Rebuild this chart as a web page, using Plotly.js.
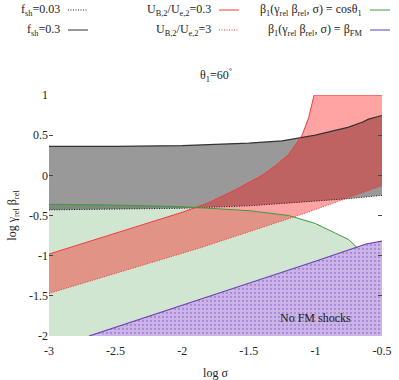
<!DOCTYPE html>
<html>
<head>
<meta charset="utf-8">
<script src="https://cdn.plot.ly/plotly-3.0.1.min.js"></script>
<style>
  html, body { margin: 0; padding: 0; background: white; }
  #chart { width: 399px; height: 380px; }
</style>
</head>
<body>
<div id="chart"></div>
<script>
// log sigma ranges / log(gamma_rel beta_rel) boundaries
const X_RANGE = [-3, -0.5];
const Y_RANGE = [-2, 1];

const xTickVals = [-3, -2.5, -2, -1.5, -1, -0.5];
const xTickText = ["-3", "-2.5", "-2", "-1.5", "-1", "-0.5"];
const yTickVals = [-2, -1.5, -1, -0.5, 0, 0.5, 1];
const yTickText = ["-2", "-1.5", "-1", "-0.5", "0", "0.5", "1"];

// f_sh = 0.3 (upper, solid) and f_sh = 0.03 (lower, dotted)
const fshHiX = [-3, -2.5, -2, -1.5, -1.25, -1.0, -0.75, -0.65, -0.6, -0.5];
const fshHiY = [0.36, 0.36, 0.37, 0.40, 0.43, 0.50, 0.60, 0.66, 0.70, 0.745];
const fshLoX = [-3, -2, -1.5, -1.1, -0.75, -0.5];
const fshLoY = [-0.43, -0.41, -0.38, -0.335, -0.29, -0.25];

// U_B,2/U_e,2 = 0.3 (solid) and = 3 (dotted)
const ub03X = [-3, -2.5, -2, -1.8, -1.6, -1.4, -1.3, -1.2, -1.1, -1.05, -1.01, -0.5];
const ub03Y = [-0.98, -0.72, -0.46, -0.34, -0.18, 0.0, 0.12, 0.26, 0.50, 0.72, 1.0, 1.0];
const ub3X = [-3, -1.86, -1.11, -0.5];
const ub3Y = [-1.47, -0.90, -0.49, -0.13];

// beta_1 = cos(theta_1)
const cosX = [-3, -2.5, -2, -1.5, -1.2, -1.0, -0.85, -0.75, -0.68];
const cosY = [-0.36, -0.37, -0.39, -0.44, -0.50, -0.60, -0.72, -0.80, -0.91];

// beta_1 = beta_FM
const fmX = [-2.7, -2, -1.5, -1, -0.62, -0.5];
const fmY = [-2, -1.62, -1.35, -1.07, -0.855, -0.82];

const FONT = "Times New Roman";
const RED = "#f03c3c";
const GREEN = "#3f9a3f";
const PURPLE = "#6b3fb3";
const DOT = "1px,1.5px";

function band(xHi, yHi, xLo, yLo) {
  return {
    x: [...xHi, ...xLo.slice().reverse()],
    y: [...yHi, ...yLo.slice().reverse()],
  };
}

const cosEnd = cosX[cosX.length - 1];
const fmBelow = fmX.map((x, i) => [x, fmY[i]]).filter((p) => p[0] < cosEnd).reverse();
const greenPoly = {
  x: [...cosX, ...fmBelow.map((p) => p[0]), X_RANGE[0]],
  y: [...cosY, ...fmBelow.map((p) => p[1]), Y_RANGE[0]],
};
const grayPoly = band(fshHiX, fshHiY, fshLoX, fshLoY);
const redPoly = band(ub03X, ub03Y, ub3X, ub3Y);

const traces = [
  { ...greenPoly, mode: "none", fill: "toself", fillcolor: "rgba(40,140,40,0.22)", hoverinfo: "skip" },
  { ...grayPoly, mode: "none", fill: "toself", fillcolor: "rgba(0,0,0,0.4)", hoverinfo: "skip" },
  { ...redPoly, mode: "none", fill: "toself", fillcolor: "rgba(255,0,0,0.36)", hoverinfo: "skip" },
  {
    x: [...fmX, X_RANGE[1]],
    y: [...fmY, Y_RANGE[0]],
    mode: "none",
    fill: "toself",
    fillcolor: "#c8b0e6",
    fillpattern: { shape: ".", bgcolor: "#ccb6e9", fgcolor: "#a889d4", size: 4, solidity: 0.25 },
    hoverinfo: "skip",
  },
  { x: fshHiX, y: fshHiY, mode: "lines", line: { color: "#333", width: 1.2 } },
  { x: fshLoX, y: fshLoY, mode: "lines", line: { color: "#222", width: 1, dash: DOT } },
  { x: ub03X, y: ub03Y, mode: "lines", line: { color: RED, width: 1 } },
  { x: ub3X, y: ub3Y, mode: "lines", line: { color: RED, width: 1, dash: DOT } },
  { x: cosX, y: cosY, mode: "lines", line: { color: GREEN, width: 1 } },
  { x: fmX, y: fmY, mode: "lines", line: { color: PURPLE, width: 1.2 } },
].map((t) => ({ ...t, type: "scatter", showlegend: false }));

// legend drawn by hand: text right-aligned, line sample to its right
const M = { l: 49, r: 17, t: 95, b: 44 };
const PW = 399 - M.l - M.r;
const PH = 380 - M.t - M.b;
const px = (x) => (x - M.l) / PW;
const py = (y) => (380 - M.b - y) / PH;

const legendItems = [
  { text: "f<sub>sh</sub>=0.03", tx: 62, row: 10, color: "#222", dash: DOT },
  { text: "f<sub>sh</sub>=0.3", tx: 62, row: 30, color: "#333", dash: "solid" },
  { text: "U<sub>B,2</sub>/U<sub>e,2</sub>=0.3", tx: 213, row: 10, color: RED, dash: "solid" },
  { text: "U<sub>B,2</sub>/U<sub>e,2</sub>=3", tx: 213, row: 30, color: RED, dash: DOT },
  { text: "β<sub>1</sub>(γ<sub>rel</sub> β<sub>rel</sub>, σ) = cosθ<sub>1</sub>", tx: 364, row: 10, color: GREEN, dash: "solid" },
  { text: "β<sub>1</sub>(γ<sub>rel</sub> β<sub>rel</sub>, σ) = β<sub>FM</sub>", tx: 364, row: 30, color: PURPLE, dash: "solid" },
];

const annotations = legendItems.map((it) => ({
  xref: "paper", yref: "paper",
  x: px(it.tx), y: py(it.row),
  xanchor: "right", yanchor: "middle",
  text: it.text, showarrow: false,
  font: { family: FONT, size: 12, color: "#222" },
}));
annotations.push({
  x: -1.0, y: -1.77, xref: "x", yref: "y",
  text: "No FM shocks", showarrow: false,
  font: { family: FONT, size: 12, color: "#222" },
});

const shapes = legendItems.map((it) => ({
  type: "line", xref: "paper", yref: "paper",
  x0: px(it.tx + 6), x1: px(it.tx + 26), y0: py(it.row), y1: py(it.row),
  line: { color: it.color, width: 1, dash: it.dash },
}));

const layout = {
  width: 399,
  height: 380,
  margin: M,
  paper_bgcolor: "white",
  plot_bgcolor: "white",
  font: { family: FONT, size: 12, color: "#222" },
  title: {
    text: "θ<sub>1</sub>=60<sup>°</sup>",
    x: px(216), xref: "paper", y: 1 - 75 / 380, yref: "container",
    xanchor: "center", yanchor: "middle",
    font: { family: FONT, size: 12, color: "#222" },
  },
  xaxis: {
    range: X_RANGE,
    tickvals: xTickVals, ticktext: xTickText,
    ticks: "", showgrid: false, zeroline: false, showline: false,
    ticklabelstandoff: 6,
    title: { text: "log σ", font: { family: FONT, size: 12 }, standoff: 11 },
  },
  yaxis: {
    range: Y_RANGE,
    tickvals: yTickVals, ticktext: yTickText,
    ticks: "inside", ticklen: 4, tickcolor: "#444", mirror: "ticks",
    showgrid: false, zeroline: false, showline: false,
    title: { text: "log γ<sub>rel</sub> β<sub>rel</sub>", font: { family: FONT, size: 12 }, standoff: 9 },
  },
  annotations,
  shapes,
  showlegend: false,
};

Plotly.newPlot("chart", traces, layout, { displayModeBar: false, staticPlot: true });
</script>
</body>
</html>
